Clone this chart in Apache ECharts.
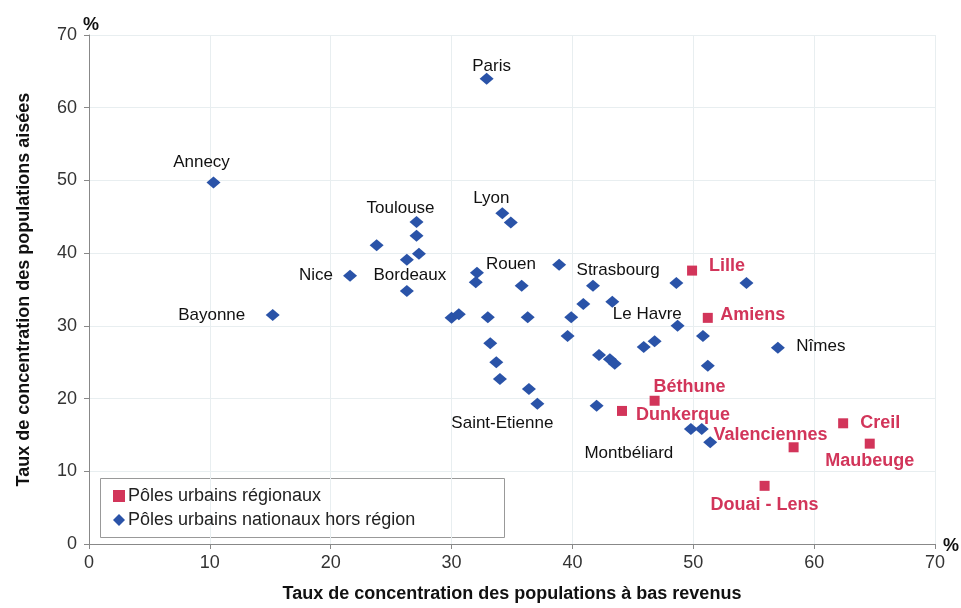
<!DOCTYPE html>
<html>
<head>
<meta charset="utf-8">
<script src="https://cdn.jsdelivr.net/npm/echarts@6/dist/echarts.min.js"></script>
<style>html,body{margin:0;padding:0;background:#fff}#c{width:961px;height:608px}</style>
</head>
<body>
<div id="c"></div>
<script>
// ---- data ----
const xTicks = [0, 10, 20, 30, 40, 50, 60, 70];
const yTicks = [0, 10, 20, 30, 40, 50, 60, 70];

const regionalNames = ['Lille', 'Amiens', 'Béthune', 'Dunkerque', 'Valenciennes', 'Creil', 'Maubeuge', 'Douai - Lens'];
const regionalX = [49.9, 51.2, 46.8, 44.1, 58.3, 62.4, 64.6, 55.9];
const regionalY = [37.6, 31.1, 19.7, 18.3, 13.3, 16.6, 13.8, 8.0];

const nationalNames = ['Paris', 'Annecy', 'Bayonne', 'Nice', '', 'Toulouse', '', '', '', 'Bordeaux',
  '', '', 'Rouen', '', '', '', '', '', '', '', '', 'Saint-Etienne', 'Lyon', '', 'Strasbourg',
  '', '', 'Le Havre', '', '', '', '', '', '', '', '', '', '', '', '', 'Nîmes', '', 'Montbéliard', '', ''];
const nationalX = [32.9, 10.3, 15.2, 21.6, 23.8, 27.1, 27.1, 27.3, 26.3, 26.3,
  30.0, 30.6, 32.1, 32.0, 35.8, 33.0, 36.3, 33.2, 33.7, 34.0, 36.4, 37.1, 34.2, 34.9, 38.9,
  41.7, 40.9, 43.3, 39.9, 39.6, 48.6, 54.4, 48.7, 50.8, 45.9, 46.8, 42.2, 43.1, 43.5, 51.2, 57.0, 42.0, 49.8, 50.7, 51.4];
const nationalY = [64.0, 49.7, 31.5, 36.9, 41.1, 44.3, 42.4, 39.9, 39.1, 34.8,
  31.1, 31.6, 37.3, 36.0, 35.5, 31.2, 31.2, 27.6, 25.0, 22.7, 21.3, 19.3, 45.5, 44.2, 38.4,
  35.5, 33.0, 33.3, 31.2, 28.6, 35.9, 35.9, 30.0, 28.6, 27.1, 27.9, 26.0, 25.4, 24.8, 24.5, 27.0, 19.0, 15.8, 15.8, 14.0];

// ---- label placement (style, pixel offsets from the mark) ----
const labelOffsets = {
  'Paris': [5, -12], 'Annecy': [-12, -20], 'Bayonne': [-61, 0], 'Nice': [-34, 0],
  'Toulouse': [-16, -14], 'Bordeaux': [3, -16], 'Rouen': [34, -8], 'Saint-Etienne': [-35, 20],
  'Lyon': [-11, -15], 'Strasbourg': [59, 6], 'Le Havre': [35, 12], 'Nîmes': [43, -1],
  'Montbéliard': [-62, 24],
  'Lille': [35, -5], 'Amiens': [45, -3], 'Béthune': [35, -14], 'Dunkerque': [61, 4],
  'Valenciennes': [-23, -12], 'Creil': [37, 0], 'Maubeuge': [0, 17], 'Douai - Lens': [0, 19]
};

const BLUE = '#2a53a8';
const RED = '#d2355a';

function build(xs, ys, names) {
  return xs.map((x, i) => {
    const n = names[i];
    const d = { value: [x, ys[i]], name: n };
    if (n) {
      d.label = { show: true, offset: labelOffsets[n] || [0, 0] };
    }
    return d;
  });
}

const chart = echarts.init(document.getElementById('c'), null, { renderer: 'canvas' });
const tickFont = { fontFamily: '"Liberation Sans Narrow", "Liberation Sans", sans-serif', fontSize: 18, color: '#333' };

chart.setOption({
  animation: false,
  backgroundColor: '#fff',
  grid: { left: 89, right: 26, top: 35, bottom: 64, containLabel: false },
  xAxis: {
    type: 'value', min: xTicks[0], max: xTicks[xTicks.length - 1], interval: 10,
    axisLine: { show: true, onZero: false, lineStyle: { color: '#888', width: 1 } },
    axisTick: { show: true, length: 5, lineStyle: { color: '#888' } },
    axisLabel: Object.assign({ margin: 10 }, tickFont),
    splitLine: { show: true, lineStyle: { color: '#e8eef0', width: 1 } },
    name: 'Taux de concentration des populations à bas revenus',
    nameLocation: 'middle', nameGap: 41,
    nameTextStyle: { fontFamily: '"Liberation Sans", Arial, sans-serif', fontWeight: 'bold', fontSize: 18, color: '#111' }
  },
  yAxis: {
    type: 'value', min: yTicks[0], max: yTicks[yTicks.length - 1], interval: 10,
    axisLine: { show: true, onZero: false, lineStyle: { color: '#888', width: 1 } },
    axisTick: { show: true, length: 5, lineStyle: { color: '#888' } },
    axisLabel: Object.assign({ margin: 12 }, tickFont),
    splitLine: { show: true, lineStyle: { color: '#e8eef0', width: 1 } },
    name: 'Taux de concentration des populations aisées',
    nameLocation: 'middle', nameGap: 56, nameRotate: 90,
    nameTextStyle: { fontFamily: '"Liberation Sans", Arial, sans-serif', fontWeight: 'bold', fontSize: 18, color: '#111' }
  },
  legend: {
    left: 108, top: 482, orient: 'vertical', itemGap: 6,
    itemWidth: 12, itemHeight: 12,
    data: ['Pôles urbains régionaux', 'Pôles urbains nationaux hors région'],
    itemStyle: { opacity: 1 },
    textStyle: { fontFamily: '"Liberation Sans Narrow", "Liberation Sans", sans-serif', fontSize: 18, color: '#222', padding: [0, 0, 0, -2] }
  },
  graphic: [
    { type: 'rect', left: 100, top: 478, z: 0, shape: { width: 404, height: 59 }, style: { fill: '#fff', stroke: '#999', lineWidth: 1 } },
    { type: 'text', left: 83, top: 16, style: { text: '%', font: 'bold 18px "Liberation Sans", sans-serif', fill: '#111' } },
    { type: 'text', left: 943, top: 537, style: { text: '%', font: 'bold 18px "Liberation Sans", sans-serif', fill: '#111' } }
  ],
  series: [
    {
      name: 'Pôles urbains nationaux hors région', type: 'scatter',
      symbol: 'diamond', symbolSize: [14, 12],
      itemStyle: { color: BLUE, opacity: 1 },
      label: { show: false, position: 'inside', align: 'center', verticalAlign: 'middle',
        fontFamily: '"Liberation Sans", sans-serif', fontSize: 17, color: '#111', opacity: 1, formatter: '{b}' },
      data: build(nationalX, nationalY, nationalNames), z: 3
    },
    {
      name: 'Pôles urbains régionaux', type: 'scatter',
      symbol: 'rect', symbolSize: 10,
      itemStyle: { color: RED, opacity: 1 },
      label: { show: false, position: 'inside', align: 'center', verticalAlign: 'middle',
        fontFamily: '"Liberation Sans", sans-serif', fontWeight: 'bold', fontSize: 18, color: RED, opacity: 1, formatter: '{b}' },
      data: build(regionalX, regionalY, regionalNames), z: 4
    }
  ]
});
</script>
</body>
</html>
